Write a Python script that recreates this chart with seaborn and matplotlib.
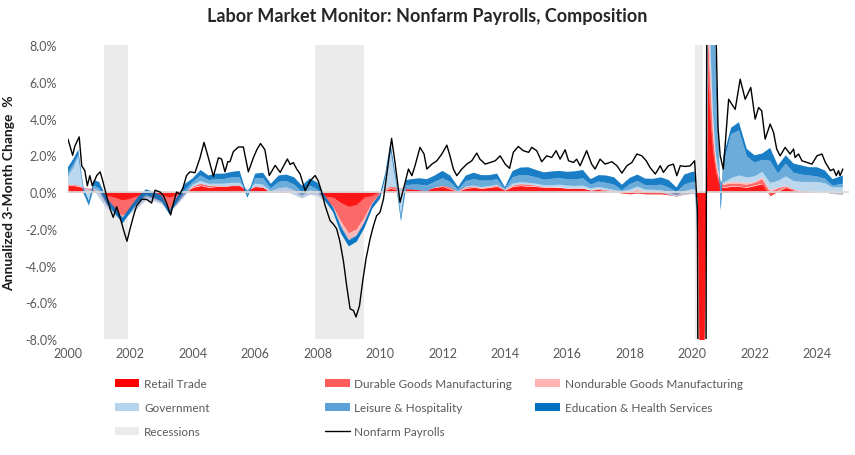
import numpy as np
import pandas as pd
import matplotlib
matplotlib.use("Agg")
import matplotlib.pyplot as plt
import seaborn as sns
from matplotlib.patches import Patch
from matplotlib.lines import Line2D

sns.set_theme(style="white")
plt.rcParams['font.family'] = ['Lato', 'DejaVu Sans']

# ---------------------------------------------------------------------------
# Data, annualized 3-month change, %
# ---------------------------------------------------------------------------
comp_dates = [
    2000.0, 2000.17, 2000.33, 2000.5, 2000.67, 2000.83,
    2001.0, 2001.25, 2001.5, 2001.75,
    2002.0, 2002.25, 2002.5, 2002.75,
    2003.0, 2003.25, 2003.5, 2003.75,
    2004.0, 2004.25, 2004.5, 2004.75,
    2005.0, 2005.25, 2005.5, 2005.75,
    2006.0, 2006.25, 2006.5, 2006.75,
    2007.0, 2007.25, 2007.5, 2007.75,
    2008.0, 2008.25, 2008.5, 2008.75,
    2009.0, 2009.25, 2009.5, 2009.75,
    2010.0, 2010.17, 2010.33, 2010.5, 2010.67, 2010.83,
    2011.0, 2011.25, 2011.5, 2011.75,
    2012.0, 2012.25, 2012.5, 2012.75,
    2013.0, 2013.25, 2013.5, 2013.75,
    2014.0, 2014.25, 2014.5, 2014.75,
    2015.0, 2015.25, 2015.5, 2015.75,
    2016.0, 2016.25, 2016.5, 2016.75,
    2017.0, 2017.25, 2017.5, 2017.75,
    2018.0, 2018.25, 2018.5, 2018.75,
    2019.0, 2019.25, 2019.5, 2019.75,
    2020.0, 2020.083, 2020.167, 2020.25, 2020.333, 2020.417,
    2020.5, 2020.583, 2020.667, 2020.75, 2020.833, 2020.917,
    2021.0, 2021.25, 2021.5, 2021.75,
    2022.0, 2022.25, 2022.5, 2022.75,
    2023.0, 2023.25, 2023.5, 2023.75,
    2024.0, 2024.25, 2024.5, 2024.83,
]

retail = [
    .35, .35, .30, .25, .20, .20,
    .05, -.20, -.30, -.45,
    -.35, -.20, -.10, -.10,
    -.15, -.30, -.15, .05,
    .25, .35, .25, .30,
    .30, .35, .35, .10,
    .30, .25, .05, .15,
    .20, .10, -.05, .05,
    .00, -.25, -.30, -.60,
    -.80, -.70, -.30, -.20,
    .00, .10, .20, .15, .15, .20,
    .25, .20, .15, .25,
    .30, .15, .05, .20,
    .25, .20, .25, .30,
    .10, .30, .35, .30,
    .30, .25, .25, .25,
    .20, .20, .20, .10,
    .15, .05, .00, -.05,
    -.10, -.05, -.10, -.10,
    -.10, -.15, -.20, -.10,
    -.05, -.05, -.30, -14, -12, -6,
    6.5, 4.0, 2.2, 1.2, .6, .3,
    .25, .30, .30, .25,
    .35, .45, -.20, .05,
    .25, .10, .05, .05,
    .00, .00, -.05, -.05,
]

durable = [
    .05, .05, .05, .00, .00, -.05,
    -.25, -.55, -.70, -.85,
    -.70, -.55, -.30, -.35,
    -.40, -.65, -.45, -.20,
    .05, .10, .10, .05,
    .05, .05, .05, .00,
    .05, .05, .00, -.05,
    -.10, -.15, -.20, -.15,
    -.15, -.25, -.50, -1.00,
    -1.45, -1.35, -1.10, -.40,
    -.10, .05, .10, .10, .05, .10,
    .10, .15, .10, .10,
    .10, .10, .05, .05,
    .05, .02, .02, .05,
    .02, .05, .08, .10,
    .05, .02, .02, .00,
    .00, -.02, .00, .00,
    .02, .05, .05, .05,
    .10, .15, .10, .10,
    .05, .00, -.05, -.05,
    -.05, -.05, -.10, -6, -6, -3,
    2.5, 2.0, 1.0, .5, .3, .2,
    .15, .15, .15, .15,
    .15, .25, .20, .15,
    .05, .05, .00, .00,
    .00, -.02, -.05, -.10,
]

nondurable = [
    .00, .00, .00, -.05, -.05, -.05,
    -.10, -.15, -.20, -.20,
    -.15, -.10, -.05, -.05,
    -.10, -.15, -.10, -.05,
    .00, .00, .00, .00,
    -.05, -.05, -.05, -.05,
    -.05, -.05, -.10, -.10,
    -.10, -.10, -.10, -.05,
    -.05, -.05, -.10, -.30,
    -.40, -.35, -.35, -.15,
    -.10, .00, .00, .00, .00, .00,
    .00, .00, .00, .00,
    .00, .00, -.02, .00,
    .00, .00, .00, .00,
    .00, .00, .00, .00,
    .00, .00, .00, .00,
    .00, .00, .00, .00,
    .00, .00, .00, .00,
    .02, .05, .03, .02,
    .00, .00, .00, .00,
    .00, .00, -.05, -4, -4, -2,
    1.5, 1.0, .6, .3, .2, .1,
    .05, .10, .10, .10,
    .05, .10, .10, .05,
    .05, .00, .00, .00,
    .00, .00, .00, .00,
]

government = [
    .45, .90, 1.55, -.30, -.90, .10,
    .35, .20, .15, .10,
    .20, .25, .20, .15,
    .10, .00, .05, .10,
    .10, .15, .10, .10,
    .15, .15, .15, .05,
    .15, .15, .10, .20,
    .25, .25, .15, .25,
    .20, .10, .05, .05,
    .05, .05, .05, .00,
    -.10, .60, 1.95, .30, -1.80, -.15,
    -.20, -.25, -.20, -.10,
    -.05, .00, -.05, .05,
    .05, .05, .05, .05,
    .00, .10, .10, .10,
    .10, .10, .10, .15,
    .15, .15, .15, .10,
    .10, .10, .05, .05,
    .10, .15, .10, .10,
    .15, .15, .10, .20,
    .25, .25, .05, -6, -7, -6,
    -1, 1, .5, .2, .1, .0,
    .05, .20, .35, .30,
    .30, .30, .40, .35,
    .50, .45, .50, .50,
    .55, .50, .35, .40,
]

leisure = [
    .20, .20, .15, .10, .05, .15,
    .15, .05, -.10, -.30,
    -.10, .05, .10, .05,
    .05, -.10, .10, .20,
    .15, .30, .20, .25,
    .25, .30, .30, -.40,
    .30, .35, .15, .35,
    .35, .30, .20, .25,
    .15, -.05, -.25, -.40,
    -.35, -.35, -.25, -.15,
    -.05, .05, .15, .10, .05, .20,
    .25, .30, .30, .30,
    .40, .30, .10, .30,
    .35, .35, .30, .30,
    .05, .35, .40, .40,
    .35, .30, .35, .35,
    .35, .35, .40, .20,
    .30, .30, .30, .05,
    .30, .30, .25, .25,
    .30, .25, .15, .35,
    .40, .40, -1.8, -35, -30, -15,
    20, 25, 12, 4, 1.5, -1.6,
    1.0, 2.4, 2.45, 1.15,
    .75, .65, 1.2, .40,
    .70, .45, .40, .35,
    .30, .25, .10, .20,
]

education = [
    .30, .30, .25, .20, .20, .30,
    .35, .30, .30, .30,
    .30, .30, .30, .30,
    .30, .20, .30, .35,
    .20, .30, .25, .30,
    .30, .30, .35, .10,
    .25, .30, .25, .35,
    .35, .40, .35, .40,
    .35, .25, .25, .30,
    .30, .30, .30, .25,
    .25, .25, .30, .25, .20, .30,
    .30, .35, .35, .35,
    .40, .35, .15, .30,
    .35, .30, .30, .30,
    .10, .35, .40, .45,
    .40, .40, .40, .40,
    .40, .45, .45, .30,
    .35, .40, .40, .30,
    .35, .35, .35, .35,
    .40, .40, .25, .55,
    .55, .55, -.40, -12, -10, -5,
    5, 5, 3, 1.5, .8, .4,
    .45, .35, .45, .40,
    .40, .35, .70, .45,
    .45, .50, .50, .45,
    .50, .45, .35, .45,
]

payroll_dates = [
    2000.00, 2000.15, 2000.22, 2000.36, 2000.44, 2000.54, 2000.62, 2000.70, 2000.78, 2000.92,
    2001.03, 2001.10, 2001.22, 2001.35, 2001.45, 2001.56, 2001.67, 2001.77, 2001.89, 2001.99,
    2002.10, 2002.20, 2002.36, 2002.52, 2002.68, 2002.79, 2002.95,
    2003.06, 2003.16, 2003.29, 2003.38, 2003.48, 2003.59, 2003.68, 2003.80, 2003.91,
    2004.07, 2004.23, 2004.36, 2004.50, 2004.66, 2004.82, 2004.92,
    2005.03, 2005.12, 2005.19, 2005.30, 2005.46, 2005.62, 2005.78, 2005.94,
    2006.05, 2006.17, 2006.31, 2006.45, 2006.64, 2006.80,
    2007.03, 2007.12, 2007.22, 2007.33, 2007.44, 2007.60, 2007.76, 2007.92,
    2008.02, 2008.13, 2008.24, 2008.40, 2008.50, 2008.61, 2008.72, 2008.83, 2008.93,
    2009.04, 2009.15, 2009.23, 2009.34, 2009.44, 2009.55, 2009.68, 2009.79, 2009.89,
    2010.00, 2010.11, 2010.21, 2010.37, 2010.48, 2010.64, 2010.75, 2010.91,
    2011.02, 2011.12, 2011.28, 2011.41, 2011.50, 2011.66, 2011.82, 2011.98,
    2012.14, 2012.24, 2012.35, 2012.46, 2012.62, 2012.78, 2012.94,
    2013.10, 2013.20, 2013.37, 2013.53, 2013.69, 2013.85,
    2014.01, 2014.15, 2014.27, 2014.43, 2014.59, 2014.76, 2014.86,
    2015.02, 2015.18, 2015.34, 2015.50, 2015.64, 2015.77, 2015.93,
    2016.04, 2016.20, 2016.30, 2016.41, 2016.62, 2016.78, 2016.89,
    2017.05, 2017.21, 2017.43, 2017.59, 2017.75, 2017.91,
    2018.07, 2018.23, 2018.39, 2018.53, 2018.65, 2018.82, 2018.98,
    2019.08, 2019.24, 2019.40, 2019.51, 2019.62, 2019.78, 2019.94,
    2020.08, 2020.17, 2020.25, 2020.33, 2020.42, 2020.50, 2020.58, 2020.67, 2020.75, 2020.83, 2020.90,
    2021.00, 2021.17, 2021.38, 2021.54, 2021.70, 2021.88,
    2022.02, 2022.13, 2022.23, 2022.34, 2022.50, 2022.61, 2022.71, 2022.82, 2022.98,
    2023.14, 2023.25, 2023.30, 2023.41, 2023.52, 2023.68, 2023.84,
    2024.00, 2024.16, 2024.27, 2024.43, 2024.53, 2024.62, 2024.69, 2024.74, 2024.83,
]

payroll_values = [
    2.88, 2.00, 2.50, 3.00, 1.43, 1.16, 0.34, 0.89, 0.34, 0.89,
    1.10, 0.70, -0.10, -0.92, -1.38, -0.80, -1.38, -2.00, -2.68, -2.00,
    -1.30, -0.75, -0.40, -0.40, -0.60, 0.10, 0.00,
    -0.20, -0.60, -1.25, -0.60, 0.00, -0.10, 0.20, 0.90, 1.10,
    1.05, 1.86, 2.70, 1.86, 0.85, 1.86, 1.80,
    1.10, 1.65, 1.65, 2.20, 2.45, 2.45, 1.10, 1.86,
    2.30, 2.64, 2.30, 0.90, 1.45, 1.07,
    1.80, 1.50, 1.60, 1.25, 0.98, 0.07, 0.60, 0.90,
    0.60, 0.00, -0.74, -1.56, -1.74, -2.00, -2.74, -3.80, -5.10,
    -6.36, -6.45, -6.80, -6.20, -4.90, -3.64, -2.55, -1.83, -1.29,
    -1.10, -0.38, 0.89, 2.92, 1.60, -0.56, 0.16, 1.25,
    0.89, 1.43, 2.43, 2.07, 1.25, 1.52, 1.70, 2.07,
    2.55, 1.97, 1.25, 0.89, 1.25, 1.52, 1.70,
    2.12, 1.79, 1.52, 1.61, 1.70, 1.97,
    1.52, 1.29, 2.16, 2.48, 2.25, 2.16, 2.43,
    2.25, 1.65, 1.97, 1.88, 2.25, 1.79, 2.30,
    1.70, 1.61, 1.79, 1.43, 2.25, 1.52, 1.25,
    1.79, 1.52, 1.65, 1.43, 1.03, 1.43,
    1.61, 2.07, 1.97, 1.70, 1.34, 0.98, 1.43,
    1.07, 1.43, 1.52, 0.89, 1.43, 1.39, 1.43,
    1.70, -1.00, -45.0, -40.0, -30.0, 35.0, 45.0, 25.0, 10.0, 3.50, 1.97,
    1.25, 5.05, 4.50, 6.14, 5.05, 5.69,
    3.97, 4.60, 4.42, 2.88, 3.70, 3.24, 2.34, 1.97, 2.43,
    2.07, 2.34, 1.88, 2.07, 1.70, 1.61, 1.52,
    1.97, 2.07, 1.61, 1.16, 1.25, 0.89, 1.16, 0.89, 1.25,
]

recession_start = [2001.167, 2007.917, 2020.083]
recession_end = [2001.917, 2009.5, 2020.333]

sectors = ['Retail Trade', 'Durable Goods Manufacturing', 'Nondurable Goods Manufacturing',
           'Government', 'Leisure & Hospitality', 'Education & Health Services']
colors = ['#FF0000', '#FF5B5B', '#FFB3B3', '#B4D4EE', '#5BA3D7', '#0070C0']
year_ticks = list(range(2000, 2025, 2))

df = pd.DataFrame({'date': comp_dates, sectors[0]: retail, sectors[1]: durable,
                   sectors[2]: nondurable, sectors[3]: government,
                   sectors[4]: leisure, sectors[5]: education})

# ---------------------------------------------------------------------------
# Plot
# ---------------------------------------------------------------------------
fig, ax = plt.subplots(figsize=(8.55, 4.56), dpi=100)
fig.subplots_adjust(left=0.0795, right=0.992, top=0.899, bottom=0.2544)

for s, e in zip(recession_start, recession_end):
    ax.axvspan(s, e, color='#EBEBEB', lw=0, zorder=0)

# excel-style stacked area: each series cumulated on the previous one
cum = df[sectors].cumsum(axis=1)
lower = np.zeros(len(df))
for name, col in zip(sectors, colors):
    upper = cum[name].values
    ax.fill_between(df['date'], lower, upper, color=col, lw=0, alpha=0.9, zorder=1)
    lower = upper

sns.lineplot(x=payroll_dates, y=payroll_values, color='black', lw=1,
             estimator=None, sort=False, ax=ax, zorder=3)

ax.set_xlim(2000, 2025)
ax.set_ylim(-8, 8)
ax.set_yticks(np.arange(-8, 9, 2))
ax.set_yticklabels([f'{v:.1f}%' for v in np.arange(-8, 9, 2)])
ax.tick_params(axis='y', length=0, pad=8, labelsize=9, labelcolor='#595959')

# horizontal axis sits on zero, labels stay at the bottom
for side in ['top', 'right', 'left']:
    ax.spines[side].set_visible(False)
ax.spines['bottom'].set_position(('data', 0))
ax.spines['bottom'].set_color('#D9D9D9')
ax.spines['bottom'].set_zorder(2)
ax.set_xticks(year_ticks)
ax.tick_params(axis='x', length=3, color='#BFBFBF', labelbottom=False, direction='out')

sec = ax.secondary_xaxis('bottom')
sec.set_xticks(year_ticks)
sec.tick_params(length=0, pad=6, labelsize=9, labelcolor='#595959')
sec.spines['bottom'].set_visible(False)

ax.set_ylabel('Annualized 3-Month Change  %', fontsize=10, fontweight='bold', color='#1a1a1a')
ax.yaxis.set_label_coords(-0.068, 0.5)
ax.grid(False)

fig.suptitle('Labor Market Monitor: Nonfarm Payrolls, Composition',
             fontsize=13, fontweight='bold', y=0.963, va='center')

# legend in three columns
patch = lambda c: Patch(facecolor=c, edgecolor='none')
columns = [
    ([patch(colors[0]), patch(colors[3]), patch('#EBEBEB')],
     [sectors[0], sectors[3], 'Recessions'], 0.134),
    ([patch(colors[1]), patch(colors[4]), Line2D([], [], color='black', lw=1)],
     [sectors[1], sectors[4], 'Nonfarm Payrolls'], 0.380),
    ([patch(colors[2]), patch(colors[5])],
     [sectors[2], sectors[5]], 0.626),
]
for handles, labels, xpos in columns:
    fig.legend(handles, labels, loc='upper left', bbox_to_anchor=(xpos, 0.168),
               frameon=False, fontsize=8.5, labelcolor='#595959',
               handlelength=2.1, handleheight=0.6, handletextpad=0.4,
               labelspacing=1.1, borderpad=0, borderaxespad=0)

fig.savefig('out.png', dpi=100)
